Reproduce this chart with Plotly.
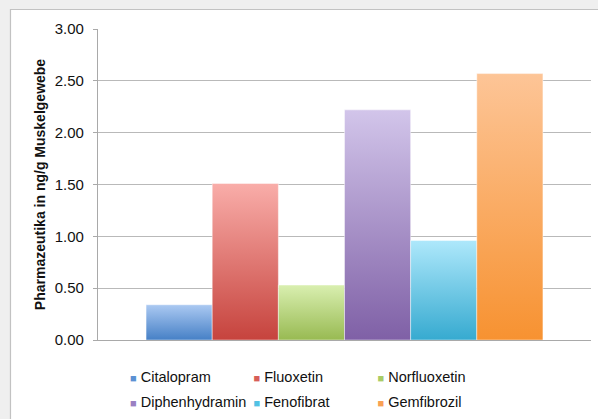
import plotly.graph_objects as go

# Pharmaceutical residues measured in muscle tissue (ng/g)
substances = ["Citalopram", "Fluoxetin", "Norfluoxetin",
              "Diphenhydramin", "Fenofibrat", "Gemfibrozil"]
concentrations = [0.34, 1.51, 0.53, 2.22, 0.96, 2.57]

# gradient colours per bar: light at the top, dark at the base
top_colors = ["#abc9f2", "#f9ada9", "#d9efb0", "#d2c5ea", "#aee8fb", "#fdc597"]
base_colors = ["#4680c6", "#c6433d", "#98ba52", "#7f60a6", "#36aad0", "#f79231"]
swatch_colors = ["#5b91d3", "#d75e58", "#a9cc66", "#9a80c2", "#52c2e4", "#f9a153"]

y_ticks = [0.0, 0.5, 1.0, 1.5, 2.0, 2.5, 3.0]

FONT = "Liberation Sans, Arial, sans-serif"
GROUP = 0.805                       # share of the category occupied by the bars
n = len(substances)
bar_w = GROUP / n

fig = go.Figure()

# bars as filled polygons so each one can carry its own vertical gradient
for i, (name, val) in enumerate(zip(substances, concentrations)):
    left = -GROUP / 2 + i * bar_w
    right = left + bar_w
    fig.add_trace(go.Scatter(
        x=[left, left, right, right, left],
        y=[0, val, val, 0, 0],
        mode="lines",
        line=dict(width=0.8, color="rgba(255,255,255,0.55)"),
        fill="toself",
        fillgradient=dict(type="vertical",
                          colorscale=[[0, base_colors[i]], [1, top_colors[i]]]),
        name=name,
        showlegend=False,
        hoverinfo="name+y",
    ))

# legend grid: three columns, two rows; one legend box per entry.
# The coloured square is part of the entry text so it sits right next to the name.
col_x = [90, 213.5, 337.5]       # left edge of each legend column (px)
row_y = [376, 401]               # vertical centre of each legend row (px)
legend_layouts = {}
for i, name in enumerate(substances):
    key = "legend" if i == 0 else f"legend{i + 1}"
    label = (f"<span style='font-size:11px;color:{swatch_colors[i]}'>\u25a0</span>"
             f" {name}")
    fig.add_trace(go.Scatter(
        x=[None], y=[None],
        mode="lines",
        line=dict(width=0, color="rgba(0,0,0,0)"),
        name=label,
        legend=key,
        hoverinfo="skip",
    ))
    legend_layouts[key] = dict(
        orientation="h", xref="container", yref="container",
        x=col_x[i % 3] / 598, y=1 - row_y[i // 3] / 419,
        xanchor="left", yanchor="middle",
        font=dict(family=FONT, size=14.5, color="#111111"),
        bgcolor="rgba(0,0,0,0)", borderwidth=0,
    )

# white chart panel with a thin grey frame
fig.add_shape(type="rect", xref="paper", yref="paper",
              x0=-0.1775, x1=1.03, y0=-0.30, y1=1.0627,
              fillcolor="white", line=dict(color="#c2c2c2", width=1.2),
              layer="below")

fig.update_layout(
    width=598, height=419,
    margin=dict(l=98, r=7, t=29, b=79),
    paper_bgcolor="#efefef",
    plot_bgcolor="rgba(0,0,0,0)",
    font=dict(family=FONT, color="#111111"),
    xaxis=dict(range=[-0.5, 0.5], showticklabels=False, showgrid=False,
               zeroline=False, showline=True, linecolor="#a9a9a9",
               linewidth=1.3, ticks="", fixedrange=True),
    yaxis=dict(range=[0, 3], tickvals=y_ticks, tickformat=".2f",
               showgrid=True, gridcolor="#b9b9b9", gridwidth=1.3,
               zeroline=False, showline=True, linecolor="#a9a9a9",
               linewidth=1.3, ticks="outside", ticklen=4,
               tickcolor="#a9a9a9", tickwidth=1.3, ticklabelstandoff=6,
               tickfont=dict(family=FONT, size=15, color="#111111"),
               title=dict(text="<b>Pharmazeutika in ng/g Muskelgewebe</b>",
                          font=dict(family=FONT, size=14, color="#111111"),
                          standoff=5),
               fixedrange=True),
    **legend_layouts,
)

fig.write_html("out.html")
